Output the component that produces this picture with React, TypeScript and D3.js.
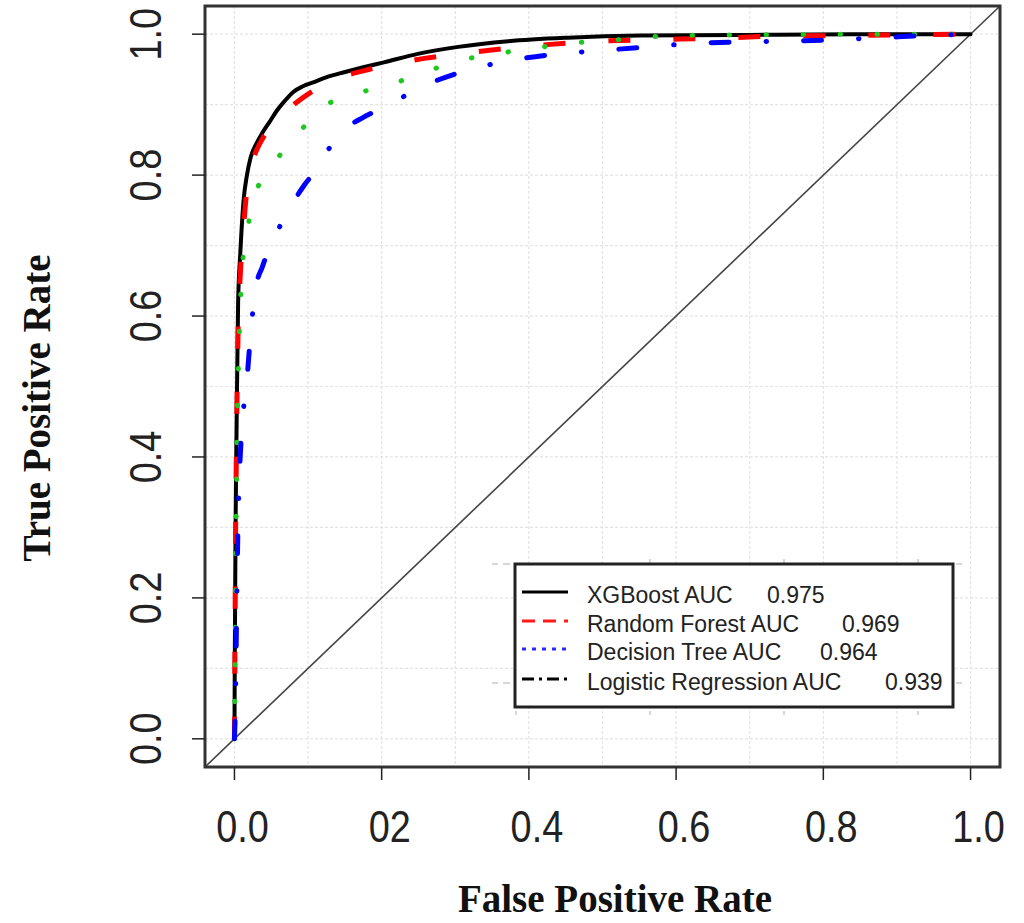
import React from "react";
import * as d3 from "d3";

// ROC points (FPR / TPR)
const xgbFpr = [0, 0.0005, 0.0015, 0.003, 0.005, 0.008, 0.0125, 0.017, 0.022, 0.03, 0.038, 0.048, 0.058, 0.069, 0.08, 0.093, 0.108, 0.128, 0.149, 0.175, 0.203, 0.249, 0.304, 0.372, 0.453, 0.55, 0.7, 0.85, 1];
const xgbTpr = [0, 0.12, 0.3, 0.45, 0.62, 0.69, 0.765, 0.8, 0.825, 0.845, 0.86, 0.876, 0.892, 0.906, 0.918, 0.926, 0.932, 0.94, 0.946, 0.953, 0.96, 0.972, 0.982, 0.99, 0.995, 0.998, 0.999, 1, 1];

const rfFpr = [0, 0.0005, 0.0015, 0.003, 0.005, 0.008, 0.012, 0.016, 0.022, 0.03, 0.04, 0.052, 0.067, 0.083, 0.1, 0.135, 0.175, 0.217, 0.26, 0.304, 0.39, 0.475, 0.557, 0.644, 0.73, 0.816, 0.9, 1];
const rfTpr = [0, 0.1, 0.28, 0.44, 0.58, 0.66, 0.72, 0.77, 0.81, 0.835, 0.855, 0.872, 0.887, 0.902, 0.915, 0.935, 0.948, 0.958, 0.966, 0.972, 0.982, 0.989, 0.992, 0.994, 0.997, 0.998, 0.999, 1];

const dtFpr = [0, 0.0008, 0.002, 0.0035, 0.0055, 0.0075, 0.0105, 0.017, 0.026, 0.037, 0.051, 0.065, 0.082, 0.1, 0.116, 0.161, 0.21, 0.256, 0.304, 0.353, 0.402, 0.452, 0.5, 0.55, 0.6, 0.7, 0.85, 1];
const dtTpr = [0, 0.1, 0.26, 0.42, 0.53, 0.6, 0.667, 0.717, 0.768, 0.792, 0.812, 0.833, 0.854, 0.875, 0.893, 0.914, 0.928, 0.945, 0.962, 0.972, 0.979, 0.987, 0.99, 0.995, 0.998, 0.999, 1, 1];

const lrFpr = [0, 0.0014, 0.003, 0.005, 0.007, 0.0105, 0.017, 0.022, 0.029, 0.038, 0.049, 0.063, 0.079, 0.095, 0.113, 0.13, 0.15, 0.175, 0.203, 0.258, 0.317, 0.377, 0.44, 0.5, 0.562, 0.626, 0.69, 0.75, 0.812, 0.876, 0.939, 1];
const lrTpr = [0, 0.053, 0.184, 0.313, 0.38, 0.446, 0.51, 0.575, 0.64, 0.67, 0.7, 0.73, 0.76, 0.786, 0.81, 0.84, 0.865, 0.882, 0.896, 0.927, 0.949, 0.963, 0.972, 0.977, 0.982, 0.987, 0.989, 0.99, 0.992, 0.995, 0.998, 1];

const ticks = [0, 0.2, 0.4, 0.6, 0.8, 1];
const xTickLabels = ["0.0", "02", "0.4", "0.6", "0.8", "1.0"];
const yTickLabels = ["0.0", "0.2", "0.4", "0.6", "0.8", "1.0"];

const legendLabels = ["XGBoost AUC", "Random Forest AUC", "Decision Tree AUC", "Logistic Regression AUC"];
const aucValues = ["0.975", "0.969", "0.964", "0.939"];

const W = 1024;
const H = 923;

const App = () => {
  // plot box spans -0.04..1.04 like base R
  const x = d3.scaleLinear().domain([-0.04, 1.04]).range([205, 1000]);
  const y = d3.scaleLinear().domain([-0.04, 1.04]).range([767, 6]);

  const line = d3
    .line<[number, number]>()
    .x((d) => x(d[0]))
    .y((d) => y(d[1]))
    .curve(d3.curveMonotoneX);

  const pts = (f: number[], t: number[]) => f.map((v, i) => [v, t[i]] as [number, number]);

  // curves, drawn in this order
  const curves = [
    { data: pts(xgbFpr, xgbTpr), color: "#000", width: 4, dash: "none", cap: "round" },
    { data: pts(rfFpr, rfTpr), color: "#ff0000", width: 5, dash: "22 43", cap: "butt" },
    { data: pts(dtFpr, dtTpr), color: "#1ec81e", width: 5, dash: "0.5 36.5", cap: "round" },
    { data: pts(lrFpr, lrTpr), color: "#0000ff", width: 5, dash: "18 37 0.5 37", cap: "round" },
  ];

  const legendStyles = [
    { color: "#000", dash: "none" },
    { color: "#ff1a1a", dash: "13 8" },
    { color: "#2a2aff", dash: "4 6" },
    { color: "#000", dash: "12 5 3 5" },
  ];

  const grid = d3.range(0, 11).map((i) => i / 10);

  // legend box (pixels)
  const lg = { x: 515, y: 564, w: 438, h: 143 };
  const valueOffsets = [252, 327, 305, 370];
  const rowY = [592, 621, 649, 679];

  return (
    <svg
      width={W}
      height={H}
      style={{ position: "absolute", left: 0, top: 0, background: "#fff" }}
      fontFamily="'Liberation Sans', Arial, sans-serif"
    >
      <rect width={W} height={H} fill="#fff" />

      {/* grid */}
      <g stroke="#e4e4e4" strokeWidth={1.2} strokeDasharray="3 2">
        {grid.map((g) => (
          <line key={"v" + g} x1={x(g)} x2={x(g)} y1={y(1.04)} y2={y(-0.04)} />
        ))}
        {grid.map((g) => (
          <line key={"h" + g} x1={x(-0.04)} x2={x(1.04)} y1={y(g)} y2={y(g)} />
        ))}
      </g>

      {/* reference diagonal */}
      <line x1={x(-0.04)} y1={y(-0.04)} x2={x(1.04)} y2={y(1.04)} stroke="#444" strokeWidth={1.6} />

      {curves.map((c, i) => (
        <path
          key={i}
          d={line(c.data) || ""}
          fill="none"
          stroke={c.color}
          strokeWidth={c.width}
          strokeDasharray={c.dash}
          strokeLinecap={c.cap as any}
          strokeLinejoin="round"
        />
      ))}

      {/* frame */}
      <rect x={205} y={6} width={795} height={761} fill="none" stroke="#333" strokeWidth={3} />

      {/* x axis */}
      <g>
        {ticks.map((t, i) => (
          <g key={t}>
            <line x1={x(t)} x2={x(t)} y1={767} y2={780} stroke="#222" strokeWidth={1.5} />
            <text
              transform={`translate(${x(t) + 8},842) scale(0.86,1)`}
              textAnchor="middle"
              fontSize={44}
              fill="#222"
            >
              {xTickLabels[i]}
            </text>
          </g>
        ))}
      </g>

      {/* y axis */}
      <g>
        {ticks.map((t, i) => (
          <g key={t}>
            <line x1={192} x2={205} y1={y(t)} y2={y(t)} stroke="#222" strokeWidth={1.5} />
            <text
              transform={`translate(161,${y(t)}) rotate(-90) scale(0.86,1)`}
              textAnchor="middle"
              fontSize={44}
              fill="#222"
            >
              {yTickLabels[i]}
            </text>
          </g>
        ))}
      </g>

      {/* axis titles */}
      <text
        x={615}
        y={912}
        textAnchor="middle"
        fontFamily="'Liberation Serif', 'Times New Roman', serif"
        fontWeight="bold"
        fontSize={39}
        fill="#111"
      >
        False Positive Rate
      </text>
      <text
        transform={`translate(50,408) rotate(-90)`}
        textAnchor="middle"
        fontFamily="'Liberation Serif', 'Times New Roman', serif"
        fontWeight="bold"
        fontSize={39}
        fill="#111"
      >
        True Positive Rate
      </text>

      {/* stray marks around the pasted legend */}
      <g stroke="#c8c8c8" strokeWidth={1.5}>
        {[lg.y, lg.y + 119].map((yy) => (
          <g key={yy}>
            <line x1={lg.x - 23} x2={lg.x - 17} y1={yy} y2={yy} />
            <line x1={lg.x - 12} x2={lg.x - 5} y1={yy} y2={yy} />
            <line x1={lg.x + lg.w + 3} x2={lg.x + lg.w + 9} y1={yy} y2={yy} />
          </g>
        ))}
        {[0, 134, 268, 402].map((dx) => (
          <g key={dx}>
            <line x1={lg.x + 1 + dx} x2={lg.x + 1 + dx} y1={lg.h + lg.y + 4} y2={lg.h + lg.y + 8} />
            {dx > 0 && <line x1={lg.x + 1 + dx} x2={lg.x + 1 + dx} y1={lg.y - 5} y2={lg.y - 1} />}
          </g>
        ))}
      </g>

      {/* legend */}
      <rect x={lg.x} y={lg.y} width={lg.w} height={lg.h} fill="#fff" stroke="#222" strokeWidth={3} />
      {legendLabels.map((lab, i) => (
        <g key={lab}>
          <line
            x1={lg.x + 7}
            x2={lg.x + 53}
            y1={rowY[i]}
            y2={rowY[i]}
            stroke={legendStyles[i].color}
            strokeWidth={3}
            strokeDasharray={legendStyles[i].dash}
          />
          <text x={lg.x + 72} y={rowY[i] + 11} fontSize={23} fill="#222">
            {lab}
          </text>
          <text x={lg.x + valueOffsets[i]} y={rowY[i] + 11} fontSize={23} fill="#222">
            {aucValues[i]}
          </text>
        </g>
      ))}
    </svg>
  );
};

export default App;
